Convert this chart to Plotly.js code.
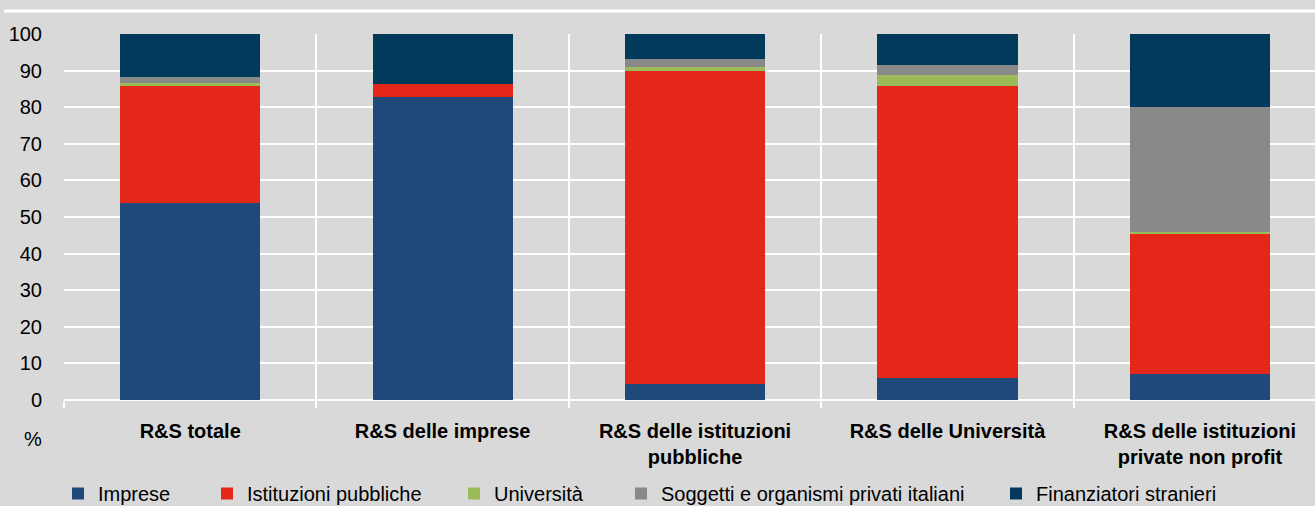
<!DOCTYPE html>
<html>
<head>
<meta charset="utf-8">
<script src="https://cdn.plot.ly/plotly-3.0.1.min.js"></script>
<style>html,body{margin:0;padding:0;background:#d9d9d9;}#chart{width:1315px;height:506px;}</style>
</head>
<body>
<div id="chart"></div>
<script>
const categories = ["R&S totale", "R&S delle imprese", "R&S delle istituzioni<br>pubbliche", "R&S delle Università", "R&S delle istituzioni<br>private non profit"];
const seriesNames = ["Imprese", "Istituzioni pubbliche", "Università", "Soggetti e organismi privati italiani", "Finanziatori stranieri"];
const imprese = [53.7, 82.8, 4.3, 6.1, 7.2];
const istituzioniPubbliche = [32.2, 3.5, 85.7, 79.8, 38.1];
const universita = [0.8, 0.0, 0.9, 2.9, 0.6];
const soggettiPrivati = [1.5, 0.1, 2.2, 2.6, 34.2];
const finanziatoriStranieri = [11.8, 13.6, 6.9, 8.6, 19.9];
const yTicks = [0, 10, 20, 30, 40, 50, 60, 70, 80, 90, 100];

const colors = ["#1f497b", "#e42719", "#9bbb59", "#898989", "#023a5c"];
const values = [imprese, istituzioniPubbliche, universita, soggettiPrivati, finanziatoriStranieri];
const legendIds = ["legend", "legend2", "legend3", "legend4", "legend5"];
const legendTextX = [98, 247, 494, 661, 1036];

const FONT = '"Liberation Sans", Arial, sans-serif';
const W = 1315, H = 506;
const M = {l: 64, r: 0, t: 34, b: 106};
const plotW = W - M.l - M.r, plotH = H - M.t - M.b;
const px2paperX = p => (p - M.l) / plotW;
const px2paperY = p => (H - M.b - p) / plotH;

const traces = values.map((v, i) => ({
  type: "bar",
  name: seriesNames[i],
  x: categories,
  y: v,
  marker: {color: colors[i], line: {width: 0}},
  legend: legendIds[i],
  hoverinfo: "skip"
}));

const layout = {
  width: W,
  height: H,
  barmode: "stack",
  bargap: 0.445,
  paper_bgcolor: "#d9d9d9",
  plot_bgcolor: "#d9d9d9",
  margin: {l: M.l, r: M.r, t: M.t, b: M.b, pad: 0, autoexpand: false},
  font: {family: FONT, size: 20, color: "#000"},
  showlegend: true,
  xaxis: {
    type: "category",
    range: [-0.5, 4.456],
    tickson: "boundaries",
    ticks: "outside",
    ticklen: 7,
    tickwidth: 2,
    tickcolor: "#ffffff",
    showgrid: true,
    gridcolor: "#ffffff",
    gridwidth: 2,
    showline: false,
    zeroline: false,
    automargin: false,
    ticklabelstandoff: 17,
    tickfont: {family: FONT, size: 20, color: "#000", weight: "bold"},
    fixedrange: true
  },
  yaxis: {
    range: [0, 100],
    tickmode: "array",
    tickvals: yTicks,
    ticktext: yTicks.map(String),
    showgrid: true,
    gridcolor: "#ffffff",
    gridwidth: 2,
    zeroline: true,
    zerolinecolor: "#ffffff",
    zerolinewidth: 2,
    showline: false,
    ticks: "",
    automargin: false,
    ticklabelstandoff: 21,
    tickfont: {family: FONT, size: 20, color: "#000"},
    fixedrange: true
  },
  shapes: [{
    type: "line", xref: "paper", yref: "paper",
    x0: px2paperX(4), x1: 1, y0: px2paperY(11), y1: px2paperY(11),
    line: {color: "#ffffff", width: 3}
  }],
  annotations: [{
    text: "%", xref: "paper", yref: "paper",
    x: px2paperX(33), y: px2paperY(439), xanchor: "center", yanchor: "middle",
    showarrow: false, font: {family: FONT, size: 20, color: "#000"}
  }]
};

legendIds.forEach((id, i) => {
  layout[id] = {
    xref: "paper", yref: "paper",
    orientation: "h",
    x: px2paperX(legendTextX[i] - 40), y: px2paperY(493.5),
    xanchor: "left", yanchor: "middle",
    bgcolor: "rgba(0,0,0,0)",
    borderwidth: 0,
    font: {family: FONT, size: 20, color: "#000"}
  };
});

Plotly.newPlot("chart", traces, layout, {displayModeBar: false, staticPlot: true});
</script>
</body>
</html>
